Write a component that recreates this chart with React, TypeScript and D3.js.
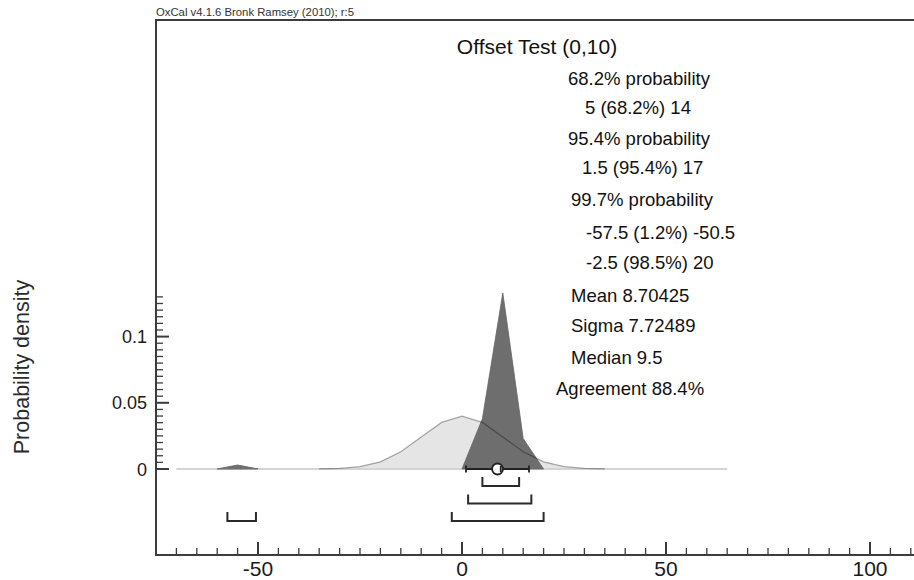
import React from "react";
import * as d3 from "d3";

// ---- data ----
const priorX = [-70, -65, -60, -55, -50, -45, -40, -35, -30, -25, -20, -15, -10, -5, 0, 5, 10, 15, 20, 25, 30, 35, 40, 45, 50, 55, 60, 65];
const priorY = [0, 0, 0, 0, 0, 0, 0.00001, 0.00009, 0.00044, 0.00175, 0.0054, 0.01295, 0.0242, 0.0352, 0.0399, 0.0352, 0.0242, 0.01295, 0.0054, 0.00175, 0.00044, 0.00009, 0.00001, 0, 0, 0, 0, 0];

// posterior, two separate pieces
const postX1 = [-60, -55, -50];
const postY1 = [0, 0.003, 0];
const postX2 = [0, 5, 10, 15, 20];
const postY2 = [0, 0.038, 0.133, 0.023, 0];

const meanVal = 8.70425;
const sigmaVal = 7.72489;
const medianVal = 9.5;

const range68 = [[5, 14]];
const range954 = [[1.5, 17]];
const range997 = [[-57.5, -50.5], [-2.5, 20]];

const xMajorTicks = [-50, 0, 50, 100];
const yMajorTicks = [0, 0.05, 0.1];
const yTickLabels = ["0", "0.05", "0.1"];

const titleText = "Offset Test (0,10)";
const headerText = "OxCal v4.1.6 Bronk Ramsey (2010); r:5";
const infoLines = [
  "68.2% probability",
  "5 (68.2%) 14",
  "95.4% probability",
  "1.5 (95.4%) 17",
  "99.7% probability",
  "-57.5 (1.2%) -50.5",
  "-2.5 (98.5%) 20",
  "Mean 8.70425",
  "Sigma 7.72489",
  "Median 9.5",
  "Agreement 88.4%",
];
// layout of info lines (x start, baseline)
const infoX = [568, 585, 568, 582, 571, 586, 586, 571, 571, 571, 556];
const infoY = [85, 114, 145, 174, 206, 239, 269, 302, 332, 364, 395];

const W = 914;
const H = 580;
const FONT = "'Liberation Sans', Arial, Helvetica, sans-serif";

export default function App() {
  const x = d3.scaleLinear().domain([-75, 111]).range([156, 156 + 186 * 4.08]);
  const y = d3.scaleLinear().domain([0, 0.1]).range([469, 336.6]);

  const left = x(-75);
  const top = 20;
  const axisY = 555;
  const axisColor = "#3c3c3c";

  const priorPts: [number, number][] = priorX.map((v, i) => [v, priorY[i]]);
  const post1: [number, number][] = postX1.map((v, i) => [v, postY1[i]]);
  const post2: [number, number][] = postX2.map((v, i) => [v, postY2[i]]);

  const area = d3
    .area<[number, number]>()
    .x((d) => x(d[0]))
    .y0(y(0))
    .y1((d) => y(d[1]));
  const line = d3
    .line<[number, number]>()
    .x((d) => x(d[0]))
    .y((d) => y(d[1]));

  const xMinor = d3.range(-70, 111, 5);
  const yMinor = d3.range(0, 0.13001, 0.005);

  const rowY = [486, 503.5, 521];
  const bracketH = 9;
  const rows = [range68, range954, range997];

  return (
    <svg
      width={W}
      height={H}
      style={{ position: "absolute", left: 0, top: 0, background: "#fff" }}
      fontFamily={FONT}
    >
      {/* header */}
      <text x={left} y={16} fontSize={10.5} fill="#333" textLength={198} lengthAdjust="spacingAndGlyphs">
        {headerText}
      </text>

      {/* frame */}
      <line x1={left} x2={W} y1={top} y2={top} stroke={axisColor} strokeWidth={2} />
      <line x1={left} x2={left} y1={top - 1} y2={axisY + 1} stroke={axisColor} strokeWidth={2} />
      <line x1={left} x2={W} y1={axisY} y2={axisY} stroke={axisColor} strokeWidth={2} />

      {/* y ticks */}
      {yMinor.map((v, i) => {
        const major = yMajorTicks.some((m) => Math.abs(m - v) < 1e-9);
        return (
          <line
            key={"ym" + i}
            x1={left}
            x2={left + (major ? 13 : 7)}
            y1={y(v)}
            y2={y(v)}
            stroke={axisColor}
            strokeWidth={major ? 2 : 1.3}
          />
        );
      })}
      {yMajorTicks.map((v, i) => (
        <text
          key={"yl" + i}
          x={147}
          y={y(v) + 6.5}
          fontSize={18}
          textAnchor="end"
          fill="#1a1a1a"
        >
          {yTickLabels[i]}
        </text>
      ))}

      {/* x ticks */}
      {xMinor.map((v, i) => {
        const major = xMajorTicks.includes(v);
        return (
          <line
            key={"xm" + i}
            x1={x(v)}
            x2={x(v)}
            y1={axisY}
            y2={axisY - (major ? 13 : 7)}
            stroke={axisColor}
            strokeWidth={major ? 2 : 1.3}
          />
        );
      })}
      {xMajorTicks.map((v, i) => (
        <text key={"xl" + i} x={x(v)} y={576} fontSize={21} textAnchor="middle" fill="#1a1a1a">
          {String(v)}
        </text>
      ))}

      {/* y label */}
      <text
        transform={`translate(29,367) rotate(-90)`}
        fontSize={21.5}
        textAnchor="middle"
        fill="#2a2a2a"
      >
        Probability density
      </text>

      {/* prior distribution */}
      <path d={area(priorPts) || ""} fill="#e5e5e5" stroke="none" />
      <line
        x1={x(priorX[0])}
        x2={x(priorX[priorX.length - 1])}
        y1={y(0)}
        y2={y(0)}
        stroke="#d4d4d4"
        strokeWidth={2}
      />
      {/* posterior */}
      <path d={area(post1) || ""} fill="#6e6e6e" stroke="#707070" strokeWidth={1} />
      <path d={area(post2) || ""} fill="#6e6e6e" stroke="#646464" strokeWidth={0.8} />
      {/* prior outline on top */}
      <path
        d={line(priorPts.filter((p) => Math.abs(p[0]) <= 35)) || ""}
        fill="none"
        stroke="rgba(0,0,0,0.33)"
        strokeWidth={1.2}
      />

      {/* mean +- sigma */}
      <g stroke="#222" strokeWidth={1.8} fill="none">
        <line x1={x(meanVal - sigmaVal)} x2={x(meanVal + sigmaVal)} y1={y(0)} y2={y(0)} />
        <line x1={x(meanVal - sigmaVal)} x2={x(meanVal - sigmaVal)} y1={y(0) - 3.5} y2={y(0) + 3.5} />
        <line x1={x(meanVal + sigmaVal)} x2={x(meanVal + sigmaVal)} y1={y(0) - 3.5} y2={y(0) + 3.5} />
        <circle cx={x(meanVal)} cy={y(0)} r={5.5} fill="#fff" />
        <line x1={x(medianVal)} x2={x(medianVal)} y1={y(0) - 3} y2={y(0) + 3} />
      </g>

      {/* range brackets */}
      <g stroke="#2a2a2a" strokeWidth={2} fill="none">
        {rows.map((rs, ri) =>
          rs.map((r, j) => (
            <path
              key={`r${ri}-${j}`}
              d={`M${x(r[0])},${rowY[ri] - bracketH}V${rowY[ri]}H${x(r[1])}V${rowY[ri] - bracketH}`}
            />
          ))
        )}
      </g>

      {/* title and info */}
      <text x={537} y={54} fontSize={21} textAnchor="middle" fill="#111">
        {titleText}
      </text>
      {infoLines.map((t, i) => (
        <text key={"info" + i} x={infoX[i]} y={infoY[i]} fontSize={18.5} fill="#111">
          {t}
        </text>
      ))}
    </svg>
  );
}
